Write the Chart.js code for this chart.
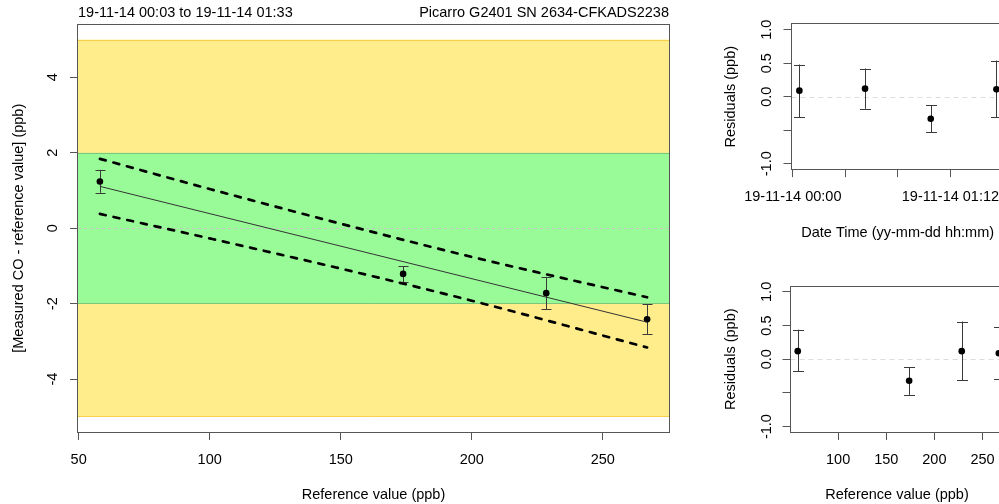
<!DOCTYPE html>
<html><head><meta charset="utf-8">
<script src="https://cdn.jsdelivr.net/npm/chart.js@4.4.1/dist/chart.umd.min.js"></script>
<style>
html,body{margin:0;padding:0;background:#fff;overflow:hidden;}
#wrap{position:relative;width:999px;height:504px;overflow:hidden;background:#fff;}
canvas{position:absolute;}
</style></head><body>
<div id="wrap">
<canvas id="main" width="700" height="504" style="left:0;top:0;width:700px;height:504px"></canvas>
<canvas id="rt" width="320" height="252" style="left:700px;top:0;width:320px;height:252px"></canvas>
<canvas id="rb" width="320" height="252" style="left:700px;top:252px;width:320px;height:252px"></canvas>
</div>
<script>
// ---------- data ----------
const titleLeft = '19-11-14 00:03 to 19-11-14 01:33';
const titleRight = 'Picarro G2401 SN 2634-CFKADS2238';

const refValues = [58.1, 173.8, 228.4, 266.9];
const measDiff  = [1.24, -1.21, -1.72, -2.41];
const diffLow   = [0.94, -1.43, -2.15, -2.80];
const diffHigh  = [1.55, -1.00, -1.29, -2.02];
const fitX = [58.1, 266.9];
const fitY = [1.11, -2.49];
const bandX     = [58.1, 100, 150, 200, 266.9];
const bandUpper = [1.84, 1.04, 0.12, -0.76, -1.83];
const bandLower = [0.38, -0.27, -1.07, -1.92, -3.16];
const toleranceOuter = 5;
const toleranceInner = 2;
const mainXTicks = [50, 100, 150, 200, 250];
const mainYTicks = [-4, -2, 0, 2, 4];
const mainYTickLabels = ['-4', '-2', '0', '2', '4'];

const timeMinutes = [3, 33, 63, 93];          // minutes after 19-11-14 00:00
const resTime     = [0.09, 0.12, -0.33, 0.11];
const resTimeLow  = [-0.31, -0.18, -0.53, -0.31];
const resTimeHigh = [0.48, 0.42, -0.13, 0.54];
const timeTicks = [0, 24, 48, 72];
const timeTickLabels = ['19-11-14 00:00', '', '', '19-11-14 01:12'];

const resRef     = [0.12, -0.32, 0.12, 0.09];
const resRefLow  = [-0.18, -0.53, -0.31, -0.29];
const resRefHigh = [0.44, -0.12, 0.56, 0.48];
const refTicks = [100, 150, 200, 250];
const resYTicks = [-1, -0.5, 0, 0.5, 1];
const resYTickLabels = ['-1.0', '', '0.0', '0.5', '1.0'];

// ---------- drawing ----------
const FAM = '"Liberation Sans", Arial, Helvetica, sans-serif';
const FS = 14.5;
const FONT = FS + 'px ' + FAM;
Chart.defaults.font.family = FAM;
Chart.defaults.font.size = FS;
Chart.defaults.color = '#000';

const deco = {
  id: 'rdeco',
  beforeDatasetsDraw(chart, args, o) {
    const {ctx, chartArea: a, scales: {x, y}} = chart;
    ctx.save();
    ctx.beginPath(); ctx.rect(a.left, a.top, a.width, a.height); ctx.clip();
    if (o.bands) {
      const drawBand = (lim, fill, line) => {
        const y1 = y.getPixelForValue(lim), y2 = y.getPixelForValue(-lim);
        ctx.fillStyle = fill; ctx.fillRect(a.left, y1, a.width, y2 - y1);
        ctx.strokeStyle = line; ctx.lineWidth = 1;
        ctx.beginPath();
        ctx.moveTo(a.left, Math.round(y1) + 0.5); ctx.lineTo(a.right, Math.round(y1) + 0.5);
        ctx.moveTo(a.left, Math.round(y2) - 0.5); ctx.lineTo(a.right, Math.round(y2) - 0.5);
        ctx.stroke();
      };
      drawBand(o.bands[0], '#FFEC8B', '#F6CF4A');
      drawBand(o.bands[1], '#98FB98', '#7CC67C');
    }
    const y0 = Math.round(y.getPixelForValue(0)) + 0.5;
    ctx.strokeStyle = o.zeroColor; ctx.lineWidth = 1; ctx.setLineDash(o.zeroDash);
    ctx.beginPath(); ctx.moveTo(a.left, y0); ctx.lineTo(a.right, y0); ctx.stroke();
    ctx.setLineDash([]);
    const e = o.err;
    ctx.strokeStyle = '#3a3a3a'; ctx.lineWidth = 1;
    for (let i = 0; i < e.x.length; i++) {
      const px = Math.round(x.getPixelForValue(e.x[i])) + 0.5;
      const yl = y.getPixelForValue(e.low[i]), yh = y.getPixelForValue(e.high[i]);
      ctx.beginPath();
      ctx.moveTo(px, yl); ctx.lineTo(px, yh);
      ctx.moveTo(px - o.cap, Math.round(yl) + 0.5); ctx.lineTo(px + o.cap, Math.round(yl) + 0.5);
      ctx.moveTo(px - o.cap, Math.round(yh) + 0.5); ctx.lineTo(px + o.cap, Math.round(yh) + 0.5);
      ctx.stroke();
    }
    ctx.restore();
  },
  afterDraw(chart, args, o) {
    const {ctx, chartArea: a, scales: {y}} = chart;
    ctx.save();
    // box
    ctx.strokeStyle = '#555'; ctx.lineWidth = 1;
    ctx.strokeRect(Math.round(a.left) - 0.5, Math.round(a.top) - 0.5,
                   Math.round(a.right) - Math.round(a.left) + 1, Math.round(a.bottom) - Math.round(a.top) + 1);
    ctx.fillStyle = '#000';
    ctx.font = FONT;
    ctx.textBaseline = 'alphabetic';
    // rotated y tick labels
    ctx.textAlign = 'center';
    o.yTicks.forEach((v, i) => {
      const lab = o.yTickLabels[i];
      if (!lab) return;
      const py = y.getPixelForValue(v);
      ctx.save(); ctx.translate(o.yTickX, py); ctx.rotate(-Math.PI / 2);
      ctx.fillText(lab, 0, 0); ctx.restore();
    });
    // y title
    ctx.save(); ctx.translate(o.yTitleX, (a.top + a.bottom) / 2); ctx.rotate(-Math.PI / 2);
    ctx.fillText(o.yTitle, 0, 0); ctx.restore();
    // x title
    ctx.fillText(o.xTitle, o.xTitleCX, o.xTitleY);
    // top titles
    if (o.topLeft) {
      ctx.textAlign = 'left'; ctx.fillText(o.topLeft, a.left, 17);
      ctx.textAlign = 'right'; ctx.fillText(o.topRight, a.right, 17);
    }
    ctx.restore();
  }
};

function xScale(min, max, ticks, labels, h) {
  return {
    type: 'linear', position: 'bottom', min, max,
    afterBuildTicks: s => { s.ticks = ticks.map(v => ({value: v})); },
    afterFit: s => { s.height = h; },
    ticks: { autoSkip: false, maxRotation: 0, minRotation: 0, padding: 10.8,
             font: {size: FS, family: FAM}, color: '#000',
             callback: (v, i) => labels[i] },
    grid: { drawOnChartArea: false, drawTicks: true, tickLength: 8, color: '#555', tickColor: '#555', lineWidth: 1 },
    border: { display: false }
  };
}
function yScale(min, max, ticks, w) {
  return {
    type: 'linear', position: 'left', min, max,
    afterBuildTicks: s => { s.ticks = ticks.map(v => ({value: v})); },
    afterFit: s => { s.width = w; },
    ticks: { display: false },
    grid: { drawOnChartArea: false, drawTicks: true, tickLength: 8, color: '#555', tickColor: '#555', lineWidth: 1 },
    border: { display: false }
  };
}
const pts = (xs, ys) => xs.map((v, i) => ({x: v, y: ys[i]}));
const baseOpts = {
  responsive: false, animation: false, devicePixelRatio: 1, events: [],
};
const dotSet = (data) => ({ type: 'scatter', data, pointRadius: 3.3, pointBackgroundColor: '#000',
                            pointBorderColor: '#000', pointBorderWidth: 0, showLine: false });

// main chart
new Chart(document.getElementById('main'), {
  type: 'scatter',
  data: { datasets: [
    { data: pts(fitX, fitY), showLine: true, borderColor: '#333', borderWidth: 1, pointRadius: 0 },
    { data: pts(bandX, bandUpper), showLine: true, borderColor: '#000', borderWidth: 2.7,
      borderDash: [6, 8], borderCapStyle: 'round', pointRadius: 0, cubicInterpolationMode: 'monotone' },
    { data: pts(bandX, bandLower), showLine: true, borderColor: '#000', borderWidth: 2.7,
      borderDash: [6, 8], borderCapStyle: 'round', pointRadius: 0, cubicInterpolationMode: 'monotone' },
    dotSet(pts(refValues, measDiff))
  ]},
  options: Object.assign({}, baseOpts, {
    layout: { padding: { left: 0, right: 31, top: 24.5, bottom: 0 } },
    scales: {
      x: xScale(49.75, 275.25, mainXTicks, mainXTicks.map(String), 72),
      y: yScale(-5.4, 5.4, mainYTicks, 78)
    },
    plugins: { legend: {display: false}, tooltip: {enabled: false},
      rdeco: { bands: [toleranceOuter, toleranceInner], zeroColor: '#c8c8c8', zeroDash: [3, 3],
        err: {x: refValues, low: diffLow, high: diffHigh}, cap: 5,
        yTicks: mainYTicks, yTickLabels: mainYTickLabels, yTickX: 57,
        yTitle: '[Measured CO - reference value] (ppb)', yTitleX: 23.3,
        xTitle: 'Reference value (ppb)', xTitleCX: 373.5, xTitleY: 498.5,
        topLeft: titleLeft, topRight: titleRight } }
  }),
  plugins: [deco]
});

// residuals vs time
new Chart(document.getElementById('rt'), {
  type: 'scatter',
  data: { datasets: [ dotSet(pts(timeMinutes, resTime)) ] },
  options: Object.assign({}, baseOpts, {
    layout: { padding: { left: 0, right: 15.7, top: 24.3, bottom: 0 } },
    scales: {
      x: xScale(-0.6, 96.6, timeTicks, timeTickLabels, 82.9),
      y: yScale(-1.08, 1.08, resYTicks, 91.5)
    },
    plugins: { legend: {display: false}, tooltip: {enabled: false},
      rdeco: { zeroColor: '#dcdcdc', zeroDash: [5, 4],
        err: {x: timeMinutes, low: resTimeLow, high: resTimeHigh}, cap: 5.5,
        yTicks: resYTicks, yTickLabels: resYTickLabels, yTickX: 71,
        yTitle: 'Residuals (ppb)', yTitleX: 35,
        xTitle: 'Date Time (yy-mm-dd hh:mm)', xTitleCX: 197.7, xTitleY: 237.3 } }
  }),
  plugins: [deco]
});

// residuals vs reference value
new Chart(document.getElementById('rb'), {
  type: 'scatter',
  data: { datasets: [ dotSet(pts(refValues, resRef)) ] },
  options: Object.assign({}, baseOpts, {
    layout: { padding: { left: 0, right: 13, top: 34.5, bottom: 0 } },
    scales: {
      x: xScale(50.57, 275.4, refTicks, refTicks.map(String), 72),
      y: yScale(-1.08, 1.08, resYTicks, 90.5)
    },
    plugins: { legend: {display: false}, tooltip: {enabled: false},
      rdeco: { zeroColor: '#dcdcdc', zeroDash: [5, 4],
        err: {x: refValues, low: resRefLow, high: resRefHigh}, cap: 5.5,
        yTicks: resYTicks, yTickLabels: resYTickLabels, yTickX: 71,
        yTitle: 'Residuals (ppb)', yTitleX: 35,
        xTitle: 'Reference value (ppb)', xTitleCX: 197, xTitleY: 246.5 } }
  }),
  plugins: [deco]
});
</script>
</body></html>
